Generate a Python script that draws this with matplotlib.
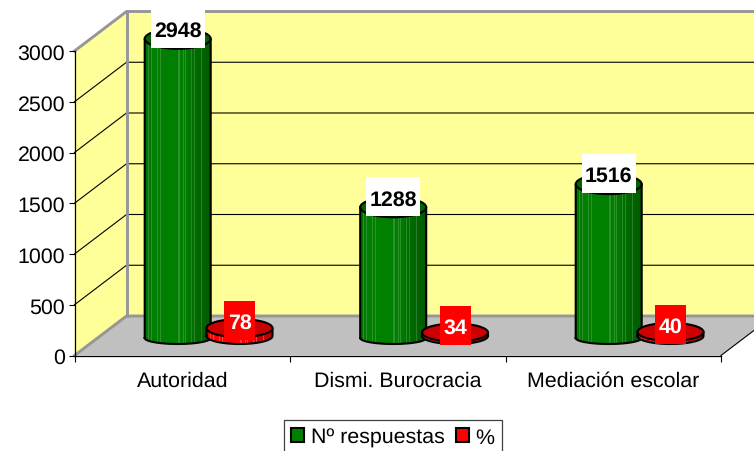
import numpy as np
import matplotlib
matplotlib.use("Agg")
import matplotlib.pyplot as plt
from matplotlib.patches import Polygon, Ellipse, Rectangle, Patch
from matplotlib.path import Path

plt.rcParams['font.family'] = ['Liberation Sans', 'DejaVu Sans']
plt.rcParams['text.hinting'] = 'no_hinting'

categories = ["Autoridad", "Dismi. Burocracia", "Mediación escolar"]
respuestas = [2948, 1288, 1516]
porcentaje = [78, 34, 40]
yticks = [0, 500, 1000, 1500, 2000, 2500, 3000]

W, H = 754, 452
FS = 15.4
fig = plt.figure(figsize=(W/100, H/100), dpi=100, facecolor='white')
L, R, B, T = 74.5, 721, 356.5, 52
ax = fig.add_axes([L/W, 1-B/H, (R-L)/W, (B-T)/H])
ax.patch.set_visible(False)

px_x = 3.0/(R-L)
px_y = 3000.0/(B-T)
DX, DY = 52*px_x, 39.5*px_y
YMAX = 3000
XMAX = 3

GREY = '#969696'
ax.add_patch(Polygon([(0, 0), (DX, DY), (DX, YMAX+DY), (0, YMAX)], closed=True, fc='#FFFF99', ec='none', zorder=1, clip_on=False))
ax.add_patch(Polygon([(DX, DY), (XMAX+DX, DY), (XMAX+DX, YMAX+DY), (DX, YMAX+DY)], closed=True, fc='#FFFF99', ec='none', zorder=1, clip_on=False))
ax.add_patch(Polygon([(0, 0), (XMAX, 0), (XMAX+DX, DY), (DX, DY)], closed=True, fc='#C0C0C0', ec='none', zorder=1.2, clip_on=False))
for v in yticks[1:-1]:
    ax.plot([0, DX, XMAX+DX], [v, v+DY, v+DY], color='black', lw=0.8, zorder=1.3, clip_on=False)
ax.plot([0, DX, XMAX+DX], [YMAX, YMAX+DY, YMAX+DY], color=GREY, lw=2.1, zorder=1.4, clip_on=False, solid_joinstyle='miter')
ax.plot([0, DX, XMAX+DX], [0, DY, DY], color=GREY, lw=2.1, zorder=1.4, clip_on=False, solid_joinstyle='miter')
ax.plot([DX, DX], [DY, YMAX+DY], color=GREY, lw=2.1, zorder=1.4, clip_on=False)
ax.plot([XMAX, XMAX+DX], [0, DY], color='black', lw=0.8, zorder=1.5, clip_on=False)

STRIPES = [0.05, 0.10, 0.19, 0.24, 0.50, 0.53, 0.58, 0.62, 0.70, 0.75, 0.85]
HALF_W = 33*px_x


def cylinder(xc, value, base, light, top, zero_px, hh_base_px, hh_top_px, z):
    base_y = (B-zero_px)*px_y
    top_y = base_y + value
    hb, ht = hh_base_px*px_y, hh_top_px*px_y
    n = 66
    t = np.linspace(0, 1, n)
    shade = np.interp(t, [0, 0.1, 0.6, 0.8, 1], [0.92, 1.0, 1.0, 0.82, 0.72])[:, None]
    img = np.array(base)[None, :]*shade
    for s in STRIPES:
        k = int(s*n)
        img[k] = 0.6*np.array(light)*(0.55+0.45*shade[k]) + 0.4*img[k]
    img = img[None, :, :]
    a = np.linspace(np.pi, 2*np.pi, 40)
    xs = xc + HALF_W*np.cos(a)
    ys = base_y + hb*np.sin(a)
    pts = np.vstack([np.column_stack([xs, ys]), [[xc+HALF_W, top_y], [xc-HALF_W, top_y]], [[xs[0], ys[0]]]])
    path = Path(pts)
    im = ax.imshow(img, extent=[xc-HALF_W, xc+HALF_W, base_y-hb, top_y], aspect='auto',
                   interpolation='nearest', origin='lower', zorder=z, vmin=0, vmax=1)
    im.set_clip_box(fig.bbox)
    im.set_clip_path(path, ax.transData)
    ax.plot(pts[:, 0], pts[:, 1], color='black', lw=1.5, zorder=z+0.01, clip_on=False)
    ax.add_patch(Ellipse((xc, top_y), 2*HALF_W, 2*ht, fc=top, ec='black', lw=1.5, zorder=z+0.02, clip_on=False))
    return top_y


def label(xc, top_y, up_px, text, w_px, fc, tc, z):
    yc = top_y + up_px*px_y
    w, h = w_px*px_x, 39*px_y
    ax.add_patch(Rectangle((xc-w/2, yc-h/2), w, h, fc=fc, ec='none', zorder=z, clip_on=False))
    ax.text(xc, yc, text, ha='center', va='center_baseline', fontsize=FS, fontweight='bold',
            color=tc, zorder=z+0.01, clip_on=False)


GREEN_OFF = (177.7-L)*px_x - 0.5
RED_OFF = (239.5-L)*px_x - 0.5
for i, (g, r) in enumerate(zip(respuestas, porcentaje)):
    z = 2 + i
    tg = cylinder(i+0.5+GREEN_OFF, g, (0, 0.50, 0), (0.30, 0.62, 0.30), '#006400', 339, 6, 10, z)
    tr = cylinder(i+0.5+RED_OFF, r, (1.0, 0.0, 0.0), (1.0, 0.45, 0.45), '#CC0000', 337, 8, 9, z+0.2)
    label(i+0.5+GREEN_OFF, tg, 10.5, str(g), 54, 'white', 'black', 6)
    label(i+0.5+RED_OFF, tr, 7.5, str(r), 31, '#FF0000', 'white', 6)

ax.set_xlim(0, XMAX)
ax.set_ylim(0, YMAX)
ax.set_yticks(yticks)
ax.set_xticks([0, 1, 2, 3])
ax.set_xticklabels([])
ax.set_xticks([0.5, 1.5, 2.5], minor=True)
ax.set_xticklabels(categories, minor=True)
ax.tick_params(axis='x', which='major', length=4.5, width=0.8, direction='out')
ax.tick_params(axis='x', which='minor', length=0, pad=11, labelsize=FS)
ax.tick_params(axis='y', length=4.3, width=0.8, direction='out', pad=2.5, labelsize=FS)
for s in ['top', 'right']:
    ax.spines[s].set_visible(False)
for s in ['left', 'bottom']:
    ax.spines[s].set_linewidth(0.9)
    ax.spines[s].set_zorder(1.6)

handles = [Patch(fc='#008000', ec='black', lw=1.5, label='Nº respuestas'),
           Patch(fc='#FF0000', ec='black', lw=1.5, label='%')]
leg = fig.legend(handles=handles, loc='upper left', bbox_to_anchor=(284/W, 1-421/H),
                 ncol=2, fontsize=FS, frameon=True, fancybox=False, edgecolor='#404040',
                 framealpha=1, handlelength=0.6, handleheight=0.6, handletextpad=0.3,
                 columnspacing=0.55, borderaxespad=0, borderpad=0.35)
leg.get_frame().set_linewidth(0.9)

fig.savefig('out.png', dpi=100, facecolor='white')
